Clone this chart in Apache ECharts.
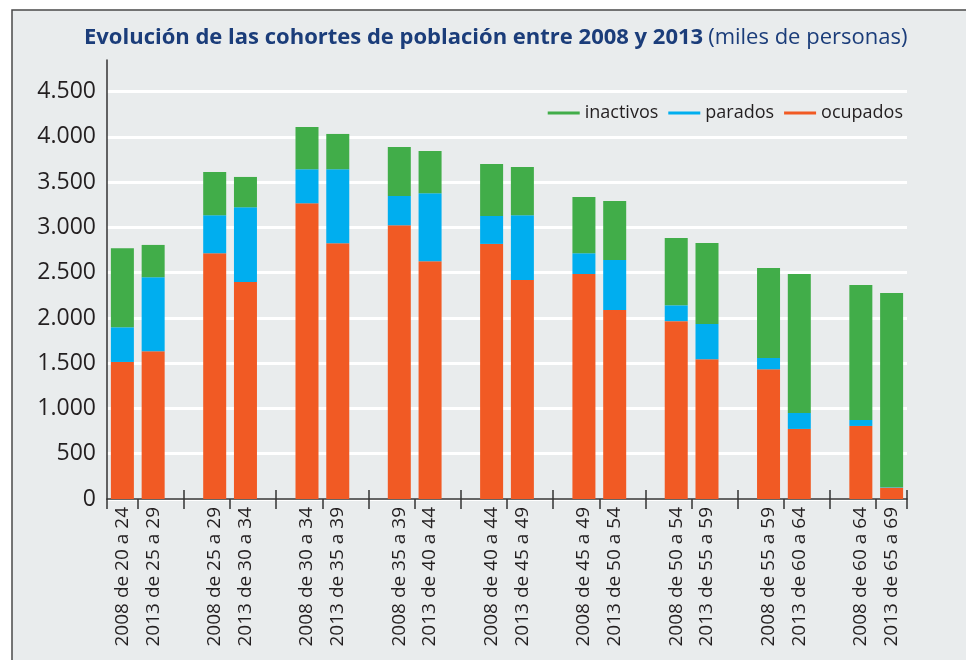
<!DOCTYPE html>
<html>
<head>
<meta charset="utf-8">
<script src="https://cdn.jsdelivr.net/npm/echarts@6/dist/echarts.min.js"></script>
<style>
  html, body { margin: 0; padding: 0; background: #fff; }
  #main { width: 966px; height: 660px; }
</style>
</head>
<body>
<div id="main"></div>
<script>
// cohortes: dos barras por grupo (2008 / 2013)
var labels = [
  '2008 de 20 a 24', '2013 de 25 a 29',
  '2008 de 25 a 29', '2013 de 30 a 34',
  '2008 de 30 a 34', '2013 de 35 a 39',
  '2008 de 35 a 39', '2013 de 40 a 44',
  '2008 de 40 a 44', '2013 de 45 a 49',
  '2008 de 45 a 49', '2013 de 50 a 54',
  '2008 de 50 a 54', '2013 de 55 a 59',
  '2008 de 55 a 59', '2013 de 60 a 64',
  '2008 de 60 a 64', '2013 de 65 a 69'
];
var ocupados  = [1514, 1632, 2715, 2398, 3267, 2825, 3024, 2626, 2818, 2420, 2486, 2088, 1965, 1544, 1433, 774, 807, 125];
var parados   = [383, 818, 420, 825, 376, 818, 324, 752, 309, 715, 229, 553, 175, 390, 125, 176, 66, 5];
var inactivos = [873, 357, 478, 335, 468, 390, 542, 467, 575, 534, 622, 652, 744, 895, 995, 1536, 1492, 2146];
var yTicks = [0, 500, 1000, 1500, 2000, 2500, 3000, 3500, 4000, 4500];

// meter un hueco vacio despues de cada par de barras
function withGaps(arr, empty) {
  var out = [];
  for (var i = 0; i < arr.length; i++) {
    out.push(arr[i]);
    if (i % 2 == 1 && i < arr.length - 1) out.push(empty);
  }
  return out;
}

var cats = withGaps(labels, '');
var nSlots = cats.length;

// marcas del eje x: largas en los huecos, cortas entre las dos barras
var tickDown = [0], tickUp = [];
for (var g = 0; g < 9; g++) {
  tickDown.push(g * 3 + 1);
  if (g < 8) { tickDown.push(g * 3 + 2.5); tickUp.push(g * 3 + 2.5); }
}
tickDown.push(nSlots); tickUp.push(nSlots);

var myChart = echarts.init(document.getElementById('main'));

var option = {
  backgroundColor: '#fff',
  animation: false,
  graphic: [{
    type: 'rect', z: -100, silent: true,
    shape: { x: 12, y: 10, width: 970, height: 670 },
    style: { fill: '#e9eced', stroke: '#4a4a4a', lineWidth: 1.5 }
  }],
  title: {
    left: 79, top: 22,
    text: '{b|Evolución de las cohortes de población entre 2008 y 2013} {n|(miles de personas)}',
    textStyle: {
      rich: {
        b: { fontFamily: 'Open Sans', fontWeight: 'bold', fontSize: 22, color: '#1b3d7a' },
        n: { fontFamily: 'Open Sans', fontWeight: 'normal', fontSize: 22, color: '#1b3d7a' }
      }
    }
  },
  legend: {
    data: ['inactivos', 'parados', 'ocupados'],
    right: 58, top: 99,
    icon: 'rect', itemWidth: 32, itemHeight: 3, itemGap: 10,
    textStyle: { fontFamily: 'Open Sans', fontSize: 18, color: '#231f20' }
  },
  grid: { left: 107, right: 59, top: 60, bottom: 161 },
  xAxis: [{
    type: 'category',
    data: cats,
    axisLine: { lineStyle: { color: '#333', width: 1.5 } },
    axisTick: { show: false },
    axisLabel: {
      interval: 0, rotate: 90, margin: 8,
      fontFamily: 'Open Sans', fontSize: 19, color: '#231f20'
    }
  }, {
    type: 'value', min: 0, max: nSlots, position: 'bottom',
    axisLine: { show: false }, axisLabel: { show: false }, splitLine: { show: false },
    axisTick: { show: true, length: 10, customValues: tickDown, lineStyle: { color: '#333', width: 1.5 } }
  }, {
    type: 'value', min: 0, max: nSlots, position: 'bottom',
    axisLine: { show: false }, axisLabel: { show: false }, splitLine: { show: false },
    axisTick: { show: true, inside: true, length: 9, customValues: tickUp, lineStyle: { color: '#333', width: 1.5 } }
  }],
  yAxis: {
    type: 'value', min: 0, max: 4850, interval: 500,
    axisLine: { show: true, lineStyle: { color: '#333', width: 1.5 } },
    axisTick: { show: false },
    splitLine: { show: true, showMaxLine: false, lineStyle: { color: '#fff', width: 3 } },
    axisLabel: {
      showMaxLabel: false, margin: 11,
      fontFamily: 'Open Sans', fontSize: 23, color: '#231f20',
      formatter: function (v) {
        return yTicks.indexOf(v) < 0 ? '' : String(v).replace(/\B(?=(\d{3})+(?!\d))/g, '.');
      }
    }
  },
  series: [
    { name: 'ocupados', type: 'bar', stack: 'p', barWidth: 23, data: withGaps(ocupados, '-'), itemStyle: { color: '#f15a24' } },
    { name: 'parados', type: 'bar', stack: 'p', barWidth: 23, data: withGaps(parados, '-'), itemStyle: { color: '#00aeef' } },
    { name: 'inactivos', type: 'bar', stack: 'p', barWidth: 23, data: withGaps(inactivos, '-'), itemStyle: { color: '#41ad49' } }
  ]
};

myChart.setOption(option);
</script>
</body>
</html>
